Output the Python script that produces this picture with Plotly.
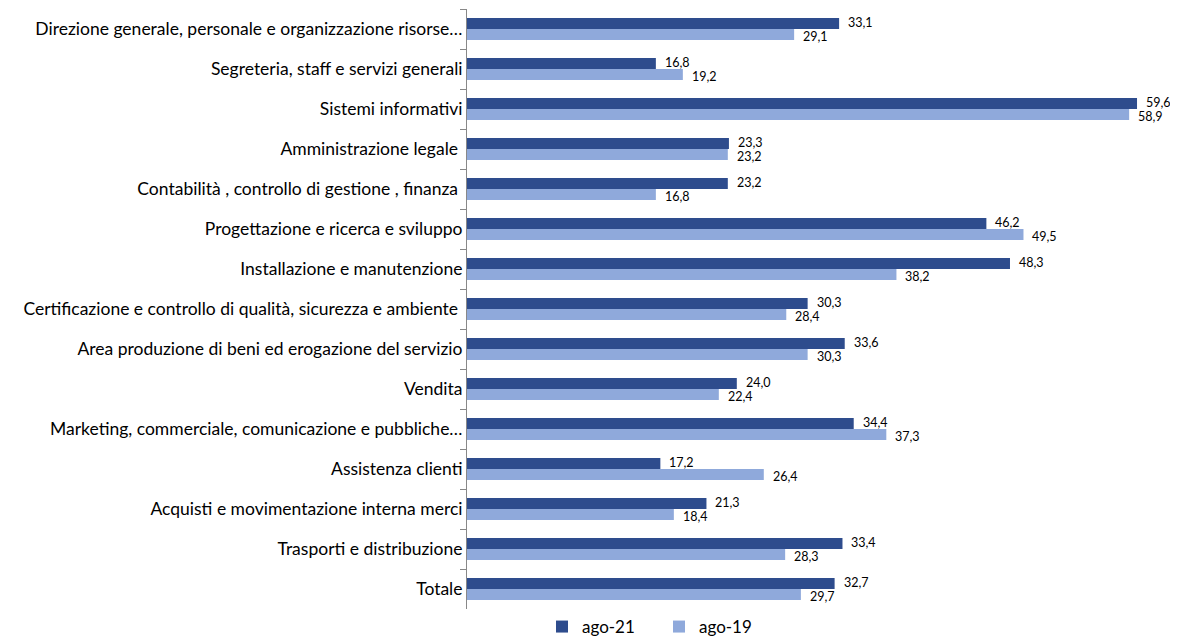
import plotly.graph_objects as go

categories = [
    "Direzione generale, personale e organizzazione risorse…",
    "Segreteria, staff e servizi generali",
    "Sistemi informativi",
    "Amministrazione legale ",
    "Contabilità , controllo di gestione , finanza ",
    "Progettazione e ricerca e sviluppo",
    "Installazione e manutenzione",
    "Certificazione e controllo di qualità, sicurezza e ambiente ",
    "Area produzione di beni ed erogazione del servizio",
    "Vendita",
    "Marketing, commerciale, comunicazione e pubbliche…",
    "Assistenza clienti",
    "Acquisti e movimentazione interna merci",
    "Trasporti e distribuzione",
    "Totale",
]
ago21 = [33.1, 16.8, 59.6, 23.3, 23.2, 46.2, 48.3, 30.3, 33.6, 24.0, 34.4, 17.2, 21.3, 33.4, 32.7]
ago19 = [29.1, 19.2, 58.9, 23.2, 16.8, 49.5, 38.2, 28.4, 30.3, 22.4, 37.3, 26.4, 18.4, 28.3, 29.7]

DARK = "#2E4C8D"
LIGHT = "#8FA9DB"
FONT = "Lato"

fig = go.Figure()
fig.add_trace(go.Bar(y=categories, x=ago21, orientation="h", name="ago-21",
                     marker=dict(color=DARK, line=dict(width=0))))
fig.add_trace(go.Bar(y=categories, x=ago19, orientation="h", name="ago-19",
                     marker=dict(color=LIGHT, line=dict(width=0))))

def fmt(v):
    return f"{v:.1f}".replace(".", ",")

ann = []
for c, v in zip(categories, ago21):
    ann.append(dict(x=v, y=c, xref="x", yref="y", text=fmt(v), showarrow=False,
                    xanchor="left", yanchor="middle", xshift=7, yshift=7,
                    font=dict(family=FONT, size=12.5, color="#000")))
for c, v in zip(categories, ago19):
    ann.append(dict(x=v, y=c, xref="x", yref="y", text=fmt(v), showarrow=False,
                    xanchor="left", yanchor="middle", xshift=7, yshift=-7,
                    font=dict(family=FONT, size=12.5, color="#000")))

fig.update_layout(
    width=1170, height=629,
    margin=dict(l=459, r=14, t=1, b=28, autoexpand=False),
    paper_bgcolor="white", plot_bgcolor="white",
    barmode="group", bargap=0.45, bargroupgap=0,
    font=dict(family=FONT, size=17.5, color="#000"),
    showlegend=True,
    legend=dict(orientation="h", x=534 / 1170, xref="container", xanchor="left",
                y=-0.03, yanchor="middle", font=dict(family=FONT, size=17),
                traceorder="normal", entrywidth=72, entrywidthmode="pixels",
                tracegroupgap=0),
    annotations=ann,
)
fig.update_xaxes(range=[0, 62], visible=False, showgrid=False)
fig.update_yaxes(autorange="reversed", showline=True, linecolor="#888", linewidth=1,
                 ticks="outside", tickson="boundaries", ticklen=6, tickcolor="#888",
                 showgrid=False, automargin=False, tickfont=dict(family=FONT, size=17.5))

fig.write_html("out.html")
